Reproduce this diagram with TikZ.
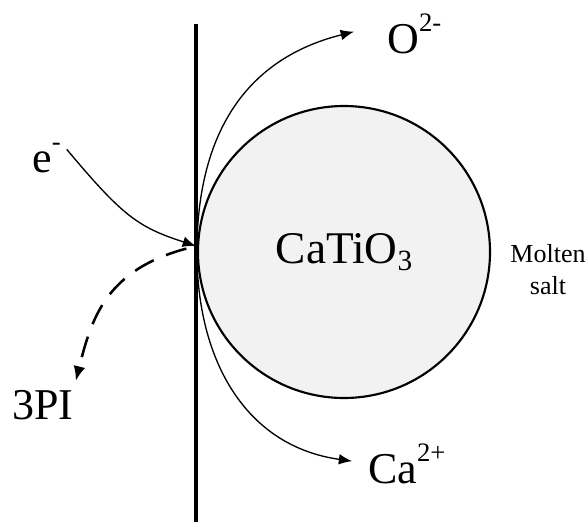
\documentclass[tikz,border=0pt]{standalone}
\usepackage{fontspec}
\setmainfont{Liberation Serif}
\usetikzlibrary{arrows.meta}

\newcommand{\ionsup}[1]{\raisebox{0.5em}{\fontsize{20}{20}\selectfont #1}}
\newcommand{\ionsub}[1]{\raisebox{-0.15em}{\fontsize{22}{22}\selectfont #1}}

\begin{document}
\begin{tikzpicture}[x=0.75pt,y=-0.75pt,
  ion/.style={font=\fontsize{33}{36}\selectfont, inner sep=0pt, anchor=base west},
  flow/.style={line width=1pt, -{Latex[length=10pt,width=8pt]}},
  reduce/.style={line width=1.9pt, dash pattern=on 16pt off 10pt,
    -{Latex[length=11pt,width=9pt]}}]
  \useasboundingbox (0,0) rectangle (587,522);

  % cathode wire and the oxide grain touching it
  \draw[line width=2.3pt] (196,24) -- (196,522);
  \coordinate (hit) at (196,246);
  \node[circle, draw, line width=1.6pt, fill=gray!10, minimum size=219pt, inner sep=0pt,
        font=\fontsize{34}{36}\selectfont] (grain) at (344,252) {CaTiO\ionsub{3}};
  \node[font=\fontsize{19.5}{24}\selectfont, align=center] (melt) at (548,270) {Molten\\salt};

  % species
  \node[ion] (elec) at (32,172) {e\ionsup{-}};
  \node[ion] (oxy) at (387,53) {O\ionsup{2-}};
  \node[ion] (calc) at (368,483) {Ca\ionsup{2+}};
  \node[ion] (pi) at (12,419) {3PI};

  \draw[flow, shorten <=6.75pt] (elec.north east)
    to[out=-50, in=162, out distance=72pt, in distance=46pt] (hit);
  \draw[flow, shorten >=25.5pt] (grain.west)
    to[out=90, in=-166, out distance=84pt, in distance=113pt] (oxy.160);
  \draw[flow, shorten >=12pt] (grain.west)
    to[out=-90, in=172, out distance=81pt, in distance=93pt] (calc.west);
  \draw[reduce, shorten <=7.5pt, shorten >=6.75pt] (hit)
    to[out=195, in=76, out distance=70pt, in distance=55pt] (pi.north east);
\end{tikzpicture}
\end{document}
